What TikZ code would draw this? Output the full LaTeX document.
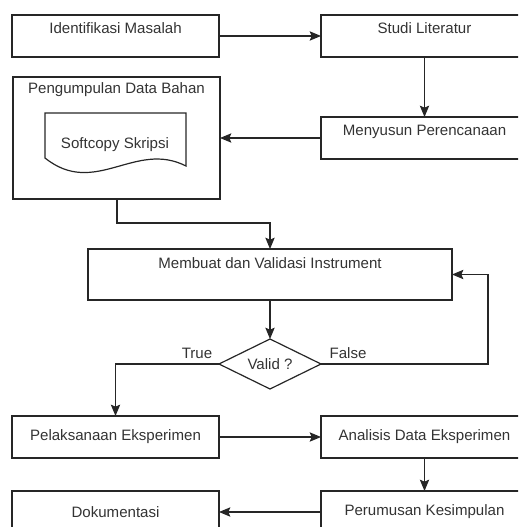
\documentclass[tikz,border=0pt]{standalone}
\usepackage{fontspec}
\setmainfont{Liberation Sans}
\usetikzlibrary{shapes.geometric,arrows.meta}
\definecolor{ln}{HTML}{262626}
\definecolor{txt}{HTML}{333333}
\begin{document}
\begin{tikzpicture}[x=0.75pt,y=-0.75pt,
  line width=0.9pt, color=ln,
  every node/.style={text=txt, font=\fontsize{11.3}{13}\selectfont},
  box/.style={draw=ln, rectangle, inner sep=0pt, outer sep=0pt,
    minimum width=155.25pt, minimum height=31.5pt},
  lbl/.style={inner sep=0pt, anchor=center},
  arr/.style={-{Stealth[length=8.5pt,width=7pt,inset=1.5pt]}}]
\useasboundingbox (0,0) rectangle (518,527);
\clip (0,0) rectangle (518,527);

% boxes
\node[box] (idm) at (115.5,36) {};
\node[lbl] (idmt) at (115.5,28) {Identifikasi Masalah};
\node[box] (stu) at (424.5,36) {};
\node[lbl] (stut) at (424.5,28) {Studi Literatur};
\node[box, minimum height=91.5pt] (peng) at (116.5,138) {};
\node[lbl] (pengt) at (116.5,90) {Pengumpulan Data Bahan};
\node[box] (meny) at (424.5,138) {};
\node[lbl] (menyt) at (424.5,132) {Menyusun Perencanaan};
\node[box, minimum width=273pt, minimum height=38.25pt] (memb) at (270,274.5) {};
\node[lbl] (membt) at (270,263) {Membuat dan Validasi Instrument};
\node[draw=ln, diamond, aspect=2, minimum width=76.5pt, minimum height=37.5pt,
  inner sep=0pt, outer sep=0pt] (valid) at (270,364) {Valid ?};
\node[box] (pel) at (115.5,437) {Pelaksanaan Eksperimen};
\node[box] (ana) at (424.5,437) {};
\node[lbl] (anat) at (424.5,437) {Analisis Data Eksperimen};
\node[box] (per) at (424.5,512) {};
\node[lbl] (pert) at (424.5,512) {Perumusan Kesimpulan};
\node[box] (dok) at (115.5,512) {Dokumentasi};

% document shape
\draw (45,113) -- (186,113) -- (186,166)
  .. controls (135,140) and (95,198) .. (45,158) -- cycle;
\node[lbl] (soft) at (115,145) {Softcopy Skripsi};

% labels
\node[lbl] (truel) at (197,353) {True};
\node[lbl] (falsel) at (348,353) {False};

% connectors
\coordinate (j1) at (117,223);
\coordinate (fr) at (488,364);
\draw[arr] (idm.east) -- (stu.west);
\draw[arr] (stu.south) -- (meny.north);
\draw[arr] (meny.west) -- (peng.east);
\draw[arr] (peng.south -| j1) -- (j1) -| (memb.north);
\draw[arr] (memb.south) -- (valid.north);
\draw[arr] (valid.east) -- (fr) |- (memb.east);
\draw[arr] (valid.west) -| (pel.north);
\draw[arr] (pel.east) -- (ana.west);
\draw[arr] (ana.south) -- (per.north);
\draw[arr] (per.west) -- (dok.east);
\end{tikzpicture}
\end{document}
